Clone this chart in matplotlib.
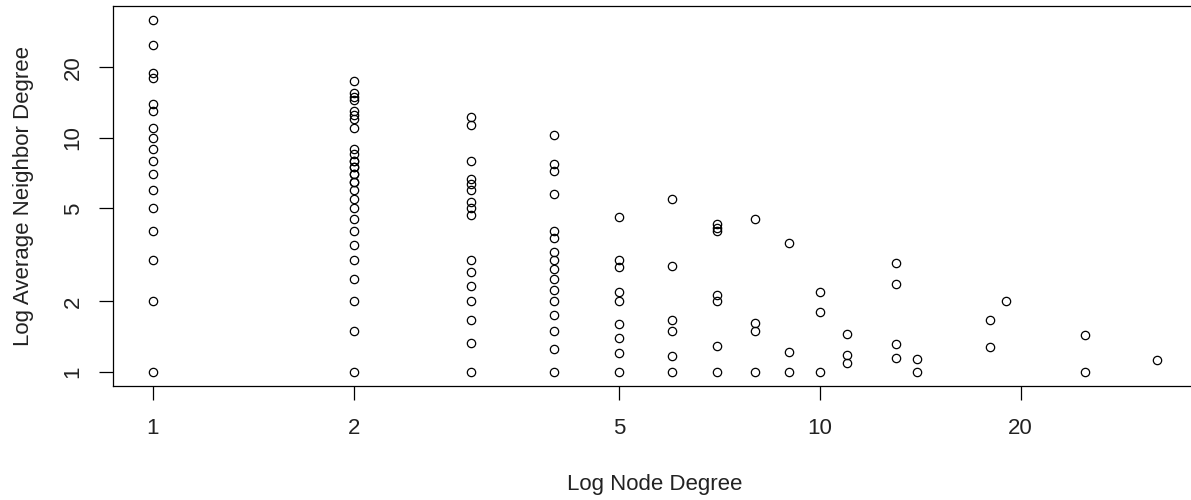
import matplotlib
matplotlib.use("Agg")
import matplotlib.pyplot as plt
from matplotlib.ticker import FixedLocator, FixedFormatter, NullLocator

plt.rcParams['font.family'] = ['Liberation Sans', 'DejaVu Sans']

# average neighbour degree of the nodes, grouped by node degree
knn_d1 = [1, 2, 3, 4, 5, 6, 7, 8, 9, 10, 11, 13, 14, 18, 19, 25, 32]
knn_d2 = [1, 1.5, 2, 2.5, 3, 3.5, 4, 4.5, 5, 5.5, 6, 6.5, 6.5, 7, 7, 7.5, 7.5,
          8, 8, 8.5, 9, 11, 12, 12.5, 13, 14.5, 15, 15.5, 17.5]
knn_d3 = [1, 1.33, 1.67, 2, 2.33, 2.67, 3, 4.67, 5, 5.33, 6, 6.33, 6.67, 8,
          11.33, 12.33]
knn_d4 = [1, 1.25, 1.5, 1.75, 2, 2.25, 2.5, 2.75, 3, 3.25, 3.75, 4, 5.75,
          7.25, 7.75, 10.25]
knn_d5 = [1, 1.2, 1.4, 1.6, 2, 2.2, 2.8, 3, 4.6]
knn_d6 = [1, 1.17, 1.5, 1.67, 2.83, 5.5]
knn_d7 = [1, 1.29, 2.0, 2.14, 4.0, 4.14, 4.29]
knn_d8 = [1, 1.5, 1.625, 4.5]
knn_d9 = [1, 1.22, 3.56]
knn_d10 = [1, 1.8, 2.2]
knn_d11 = [1.09, 1.18, 1.45]
knn_d13 = [1.15, 1.31, 2.38, 2.92]
knn_d14 = [1, 1.14]
knn_d18 = [1.28, 1.67]
knn_d19 = [2.0]
knn_d25 = [1, 1.44]
knn_d32 = [1.125]

degrees = [1, 2, 3, 4, 5, 6, 7, 8, 9, 10, 11, 13, 14, 18, 19, 25, 32]
groups = [knn_d1, knn_d2, knn_d3, knn_d4, knn_d5, knn_d6, knn_d7, knn_d8,
          knn_d9, knn_d10, knn_d11, knn_d13, knn_d14, knn_d18, knn_d19,
          knn_d25, knn_d32]

x = []
y = []
for d, g in zip(degrees, groups):
    x += [d] * len(g)
    y += g

x_ticks = [1, 2, 5, 10, 20]
y_ticks = [1, 2, 5, 10, 20]

fig = plt.figure(figsize=(11.91, 5.0), dpi=100)
ax = fig.add_axes([0.0947, 0.228, 0.9103, 0.7608])

ax.plot(x, y, linestyle='none', marker='o', markersize=6,
        markerfacecolor='none', markeredgecolor='black', markeredgewidth=0.9)

ax.set_xscale('log')
ax.set_yscale('log')
ax.set_xlim(10 ** -0.0602, 10 ** 1.5655)
ax.set_ylim(10 ** -0.0602, 10 ** 1.5655)

for axis, ticks in ((ax.xaxis, x_ticks), (ax.yaxis, y_ticks)):
    axis.set_major_locator(FixedLocator(ticks))
    axis.set_major_formatter(FixedFormatter([str(t) for t in ticks]))
    axis.set_minor_locator(NullLocator())

ax.tick_params(axis='both', length=10, width=0.9, labelsize=16,
               color='black', labelcolor='#222222')
ax.tick_params(axis='x', pad=13)
ax.tick_params(axis='y', pad=11)
for lab in ax.get_yticklabels():
    lab.set_rotation(90)
    lab.set_va('center')

for s in ax.spines.values():
    s.set_linewidth(0.9)

ax.set_xlabel('Log Node Degree', fontsize=16, color='#222222')
ax.set_ylabel('Log Average Neighbor Degree', fontsize=16, color='#222222')
ax.xaxis.set_label_coords(0.5, -0.258)
ax.xaxis.label.set_va('center')
ax.yaxis.set_label_coords(-0.0828, 0.5)
ax.yaxis.label.set_va('center')

fig.savefig('out.png', dpi=100)
